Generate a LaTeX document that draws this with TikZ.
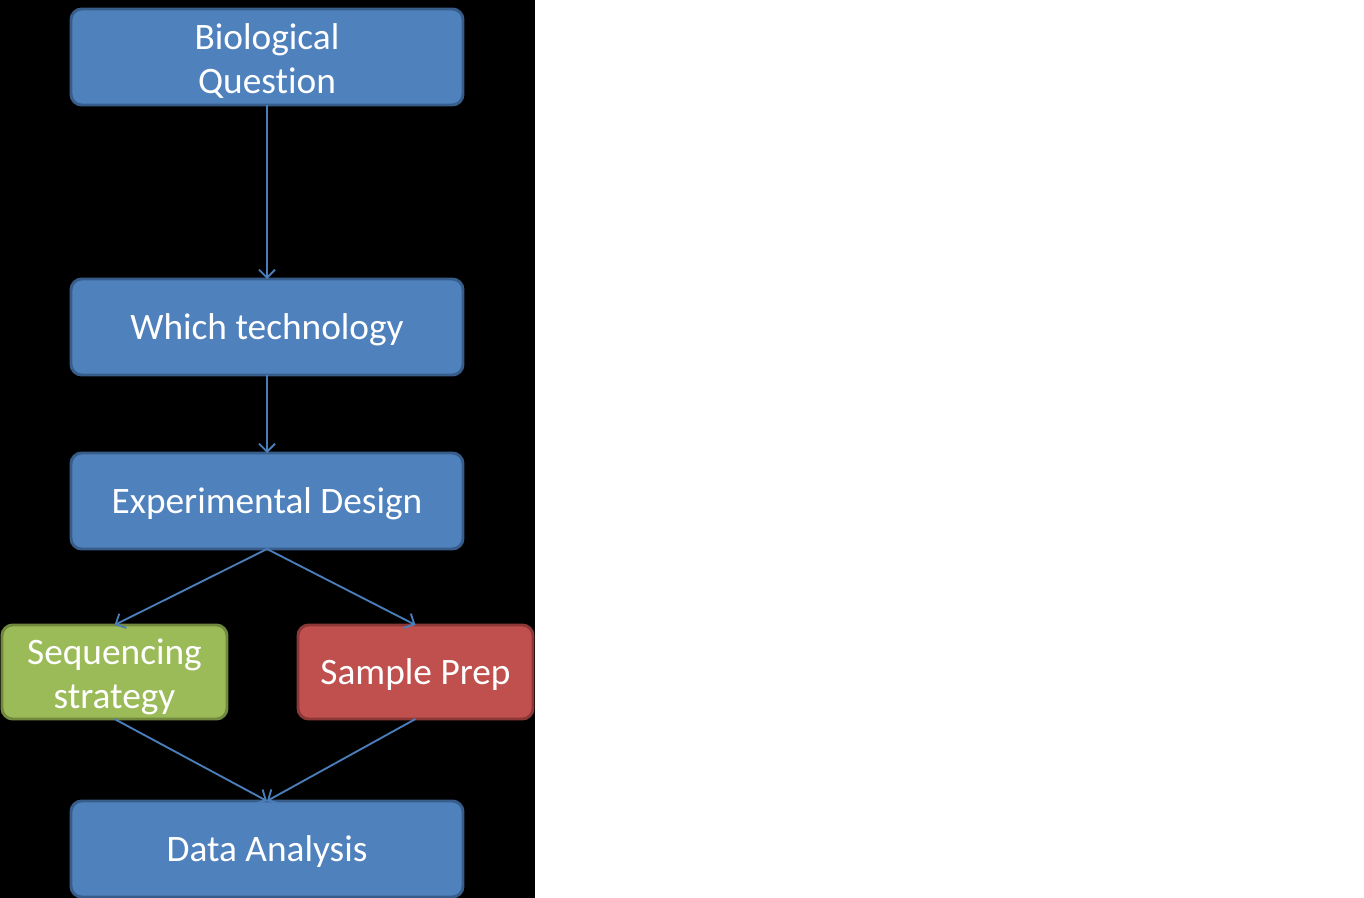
\documentclass[tikz,border=0pt]{standalone}
\usepackage{fontspec}
\setmainfont[Ligatures=NoCommon]{Carlito}
\usetikzlibrary{arrows.meta}
\definecolor{bluefill}{HTML}{4F81BD}
\definecolor{blueline}{HTML}{385D8A}
\definecolor{greenfill}{HTML}{9BBB59}
\definecolor{greenline}{HTML}{71893F}
\definecolor{redfill}{HTML}{C0504D}
\definecolor{redline}{HTML}{8C3836}
\definecolor{arrowc}{HTML}{4A7EBB}
\newcommand{\lift}{\rule{0pt}{23pt}}
\newcommand{\liftt}{\rule{0pt}{26pt}}
\begin{document}
\begin{tikzpicture}[x=0.75pt,y=-0.75pt,
  box/.style={rectangle,rounded corners=8pt,line width=2.2pt,text=white,align=center,
    font=\fontsize{28}{33}\selectfont,inner sep=0pt,outer sep=0pt},
  bluebox/.style={box,draw=blueline,fill=bluefill,minimum width=294pt,minimum height=72pt},
  greenbox/.style={box,draw=greenline,fill=greenfill,minimum width=168.75pt,minimum height=70.5pt},
  redbox/.style={box,draw=redline,fill=redfill,minimum width=176.25pt,minimum height=70.5pt},
  conn/.style={draw=arrowc,line width=1.4pt,-{Straight Barb[length=6pt,width=12pt,line width=1.4pt]}}]
\useasboundingbox (0,0) rectangle (1364,898);
\fill[white] (0,0) rectangle (1364,898);
\fill[black] (0,0) rectangle (535,898);
\node[bluebox] (bio) at (267,57) {\liftt Biological\\Question};
\node[bluebox] (tech) at (267,327) {\lift Which technology};
\node[bluebox] (exp) at (267,501) {\lift Experimental Design};
\node[greenbox] (seq) at (114.5,672) {\liftt Sequencing\\strategy};
\node[redbox] (samp) at (415.5,672) {\lift Sample Prep};
\node[bluebox] (data) at (267,849) {\lift Data Analysis};
\draw[conn] (bio.south) -- (tech.north);
\draw[conn] (tech.south) -- (exp.north);
\draw[conn] (exp.south) -- (seq.north);
\draw[conn] (exp.south) -- (samp.north);
\draw[conn] (seq.south) -- (data.north);
\draw[conn] (samp.south) -- (data.north);
\end{tikzpicture}
\end{document}
